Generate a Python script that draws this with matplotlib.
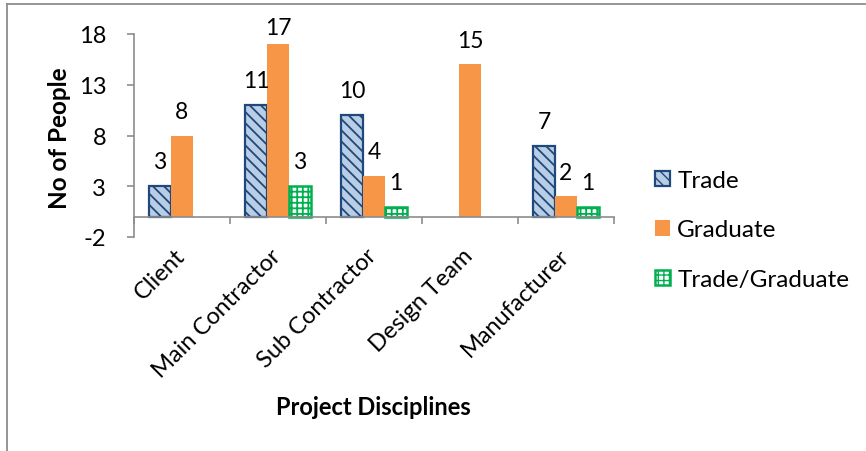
import numpy as np
import matplotlib
matplotlib.use("Agg")
import matplotlib.pyplot as plt
from matplotlib.lines import Line2D
from matplotlib.patches import Patch
from matplotlib.transforms import ScaledTranslation

plt.rcParams['font.family'] = ['Lato', 'DejaVu Sans']
plt.rcParams['axes.unicode_minus'] = False

categories = ["Client", "Main Contractor", "Sub Contractor", "Design Team", "Manufacturer"]
series_names = ["Trade", "Graduate", "Trade/Graduate"]
trade = [3, 11, 10, np.nan, 7]
graduate = [8, 17, 4, 15, 2]
trade_graduate = [np.nan, 3, 1, np.nan, 1]
y_ticks = [-2, 3, 8, 13, 18]

W, H = 866, 452
fig = plt.figure(figsize=(W / 100, H / 100), dpi=100)
ax = fig.add_axes([134 / W, 1 - 238 / H, 480 / W, 203 / H])

x = np.arange(len(categories))
bw = 0.23
styles = [
    dict(color="#B9CDE5", edgecolor="#1F497D", hatch="\\\\\\", linewidth=1.6, hlw=1.3),
    dict(color="#F79646", edgecolor="none", hatch=None, linewidth=0, hlw=1.0),
    dict(color="white", edgecolor="#00B050", hatch="+++", linewidth=1.8, hlw=1.3),
]
data = [trade, graduate, trade_graduate]
handles = []
for i, (vals, st) in enumerate(zip(data, styles)):
    vals = np.asarray(vals, dtype=float)
    with plt.rc_context({"hatch.linewidth": st["hlw"]}):
        bars = ax.bar(x + (i - 1) * bw, np.nan_to_num(vals), width=bw,
                      color=st["color"], edgecolor=st["edgecolor"],
                      hatch=st["hatch"], linewidth=st["linewidth"],
                      label=series_names[i], zorder=2)
        handles.append(Patch(facecolor=st["color"], edgecolor=st["edgecolor"],
                             hatch=st["hatch"], linewidth=st["linewidth"]))
    for b, v in zip(bars, vals):
        if np.isnan(v):
            b.set_visible(False)
            continue
        ty = min(v + 1.75, 18.0)
        ax.text(b.get_x() + b.get_width() / 2, ty, f"{int(v)}",
                ha="center", va="baseline", fontsize=16.5, color="black")

ax.set_xlim(-0.5, len(categories) - 0.5)
ax.set_ylim(-2, 18)
ax.set_yticks(y_ticks)
ax.tick_params(axis="y", direction="out", length=5, width=1.2, color="#8c8c8c",
               labelsize=17, pad=15)

for s in ["top", "right"]:
    ax.spines[s].set_visible(False)
ax.spines["left"].set_color("#8c8c8c")
ax.spines["left"].set_linewidth(1.2)
ax.spines["bottom"].set_position(("data", 0))
ax.spines["bottom"].set_color("#8c8c8c")
ax.spines["bottom"].set_linewidth(1.2)
ax.spines["bottom"].set_zorder(3)

ax.set_xticks(np.arange(len(categories) + 1) - 0.5)
ax.set_xticklabels([])
ax.set_xticks(x, minor=True)
ax.set_xticklabels(categories, minor=True, rotation=45, ha="right",
                   va="top", rotation_mode="anchor", fontsize=17)
ax.tick_params(axis="x", which="major", direction="out", length=5, width=1.2,
               color="#8c8c8c")
ax.tick_params(axis="x", which="minor", length=0, pad=20)
shift = ScaledTranslation(-8 / 100, 0, fig.dpi_scale_trans)
for lab in ax.get_xticklabels(minor=True):
    lab.set_transform(lab.get_transform() + shift)

fig.text(60 / W, 1 - 138 / H, "No of People", rotation=90, ha="center",
         va="center", fontsize=17.5, fontweight="bold")
fig.text(373 / W, 1 - 408 / H, "Project Disciplines", ha="center",
         va="center", fontsize=17, fontweight="bold")

with plt.rc_context({"hatch.linewidth": 1.0}):
    fig.legend(handles=handles, labels=series_names, loc="center left",
               bbox_to_anchor=(655 / W, 1 - 231 / H), frameon=False,
               fontsize=17.5, handlelength=0.62, handleheight=0.62,
               handletextpad=0.3, labelspacing=1.17, borderpad=0, borderaxespad=0)

border = "#8c8c8c"
fig.add_artist(Line2D([7.5 / W, 1], [1 - 5 / H, 1 - 5 / H], color=border,
                      lw=1.3, transform=fig.transFigure))
fig.add_artist(Line2D([7.5 / W, 7.5 / W], [0, 1 - 5 / H], color=border,
                      lw=1.3, transform=fig.transFigure))

fig.savefig("out.png", dpi=100)
